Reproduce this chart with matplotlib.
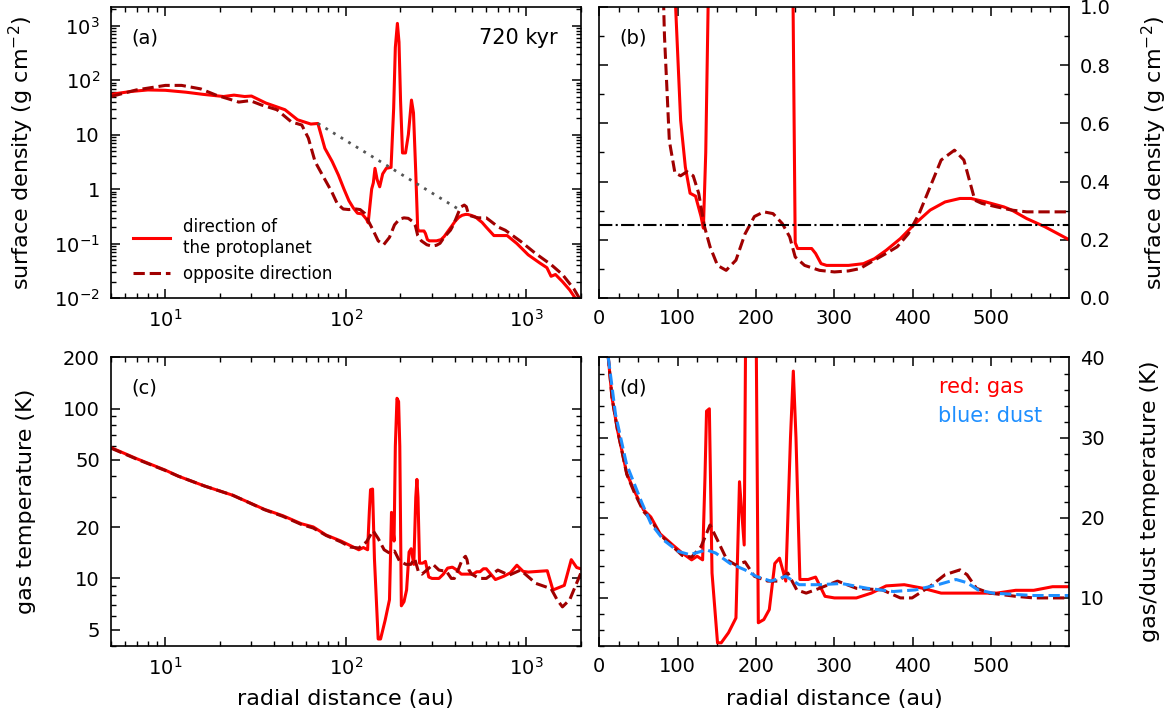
import numpy as np
import matplotlib
matplotlib.use("Agg")
import matplotlib.pyplot as plt
from matplotlib.ticker import (FixedLocator, FixedFormatter, LogLocator, NullFormatter,
                               MultipleLocator, FormatStrFormatter)

# ---- surface density, direction of the protoplanet (au, g cm^-2)
r_sig_near = [5, 6.5, 8, 10, 13, 16, 21, 24, 27.5, 30, 36, 46, 54, 64, 70, 76.5, 84, 91,
              97.6, 104, 110, 116, 123, 130, 133, 136, 139, 142, 145, 149, 154, 160, 167.5,
              178, 184, 188, 193, 197, 201, 206, 214, 222, 231, 237, 244, 250, 253, 262,
              271, 276, 283, 290, 318, 337, 351, 366, 384, 403, 422, 441, 460, 474, 493,
              516, 526, 545, 568, 600, 661, 783, 886, 1024, 1186, 1300, 1371, 1450, 1585,
              1740, 1880, 2000]
sig_near = [55, 62, 66, 65, 60, 55, 50, 53, 50, 51, 38, 28.6, 18.7, 15.6, 16, 5.6, 3.2, 1.8,
            1.0, 0.61, 0.45, 0.36, 0.35, 0.28, 0.24, 0.5, 1.0, 1.3, 2.4, 1.5, 1.1, 1.9, 2.4,
            2.5, 30, 400, 1100, 500, 41, 4.6, 4.6, 10, 43, 25, 2.0, 0.19, 0.17, 0.17,
            0.17, 0.153, 0.118, 0.112, 0.112, 0.118, 0.135, 0.164, 0.204, 0.256, 0.302,
            0.33, 0.342, 0.342, 0.33, 0.313, 0.302, 0.273, 0.245, 0.199, 0.14, 0.14, 0.10,
            0.062, 0.044, 0.036, 0.025, 0.027, 0.020, 0.014, 0.0096, 0.008]

# ---- surface density, opposite direction
r_sig_far = [5, 6.9, 10, 12.3, 15.7, 19.1, 22, 25.5, 29.5, 34, 41.5, 50, 57, 62, 67.5, 74,
             83.4, 89.6, 96.7, 104, 112, 120, 127, 134.4, 141.5, 151, 162, 174.5, 186, 198,
             210, 221.7, 233.5, 243, 250, 262, 281, 300, 318, 332.5, 347, 366, 380, 394,
             408, 422, 436, 453, 465, 479, 488, 507, 526, 545, 600, 632, 700, 765, 929,
             1129, 1371, 1585, 1836, 2000]
sig_far = [50, 66, 80, 80, 69, 53, 46, 39.5, 42, 35, 28.6, 17, 15, 8.6, 3.2, 1.83,
           0.9, 0.54, 0.43, 0.42, 0.434, 0.42, 0.36, 0.245, 0.176, 0.112, 0.095, 0.13,
           0.22, 0.28, 0.296, 0.29, 0.256, 0.21, 0.141, 0.112, 0.095, 0.0895, 0.093,
           0.101, 0.124, 0.153, 0.176, 0.22, 0.29, 0.382, 0.474, 0.508, 0.474, 0.336,
           0.325, 0.313, 0.302, 0.296, 0.296, 0.26, 0.2, 0.175, 0.11, 0.065, 0.041,
           0.027, 0.0146, 0.009]

# dotted reference power law in (a) and threshold in (b)
r_ref = [70, 435]
sig_ref = [16, 0.40]
sig_threshold = 0.25

# ---- gas temperature, direction of the protoplanet (K)
r_T_near = [5, 7, 10, 11.8, 16.5, 23.6, 35.4, 44.8, 56.6, 66, 77.8, 94, 106, 118, 125, 132,
            135, 137, 140.6, 144, 151, 155.7, 165, 174.5, 179, 185, 188, 192, 196, 199, 203,
            210, 217, 224, 230, 238, 244, 247.6, 251, 256, 266.5, 276, 288, 300, 328, 347,
            366, 389, 413, 436, 483, 507, 531, 554, 578, 600, 674, 750, 817, 886, 960, 1024,
            1306, 1404, 1623, 1774, 1900, 2000]
T_near = [58.9, 50.5, 43.4, 40, 35, 30.9, 25.5, 23.4, 21, 20.1, 18, 16.6, 15.6, 14.75, 15.2,
          14.75, 25, 33.3, 33.6, 13.1, 4.4, 4.4, 5.66, 7.5, 24.5, 16.6, 60, 115, 110, 60, 6.9,
          7.3, 8.55, 14.3, 14.96, 12.1, 30, 38.3, 30, 12.3, 12.3, 12.6, 10.2, 10, 10, 10.6,
          11.5, 11.65, 11.2, 10.6, 10.6, 10.6, 10.95, 10.95, 11.4, 11.4, 9.85, 10.3, 10.8,
          11.96, 11.0, 10.9, 11.1, 8.55, 9.1, 12.9, 11.6, 11.4]

# ---- gas temperature, opposite direction
r_T_far = [5, 7, 10, 11.8, 16.5, 23.6, 35.4, 44.8, 56.6, 66, 77.8, 94, 106, 118, 130, 141.5,
           151, 163, 174.5, 186, 198, 215, 229, 240.6, 252, 264, 281, 304, 328, 361, 384,
           399, 422, 441, 460, 469, 481, 498, 531, 554, 600, 695, 803, 929, 1129, 1371,
           1480, 1585, 1740, 2000]
T_far = [58.5, 50.2, 43.2, 40, 35, 30.9, 25.4, 23.2, 20.8, 19.8, 17.9, 16.4, 15.3, 15.1,
         16.4, 19.1, 17.2, 14.75, 14.1, 14.5, 12.7, 12.1, 12.1, 13.1, 11, 10.6, 11.2, 12.1,
         11.2, 11, 10, 10, 11.45, 12.9, 13.5, 12.9, 11.2, 10.6, 10.2, 10, 10, 11.2, 10.45,
         11.2, 9.35, 8.7, 7.5, 6.8, 7.5, 10.7]

# ---- dust temperature (panel d only)
r_T_dust = [10, 11.8, 21, 35, 54, 66, 82.5, 101, 115.6, 137, 148.6, 167, 186, 200, 219, 238,
            255, 281, 309, 342, 375, 403, 432, 455, 469, 483, 502, 554, 600]
T_dust = [42, 40, 32.9, 26.7, 22, 19.3, 17.2, 15.8, 15.4, 16, 15.6, 14.3, 13.5, 12.7, 12.1,
          12.7, 11.65, 11.65, 11.8, 11.2, 10.8, 11, 11.65, 12.3, 11.9, 11, 10.6, 10.3, 10.3]

RED = "#ff0000"
DARK = "#a00000"
BLUE = "#1e8fff"
LW = 2.2

plt.rcParams["font.family"] = "DejaVu Sans"
plt.rcParams["mathtext.fontset"] = "dejavusans"

fig = plt.figure(figsize=(11.7, 7.21), dpi=100)
ax_a = fig.add_axes([0.0949, 0.5867, 0.4014, 0.4036])
ax_b = fig.add_axes([0.5120, 0.5867, 0.4017, 0.4036])
ax_c = fig.add_axes([0.0949, 0.1040, 0.4014, 0.4002])
ax_d = fig.add_axes([0.5120, 0.1040, 0.4017, 0.4002])

for ax in (ax_a, ax_b, ax_c, ax_d):
    ax.tick_params(which="both", direction="in", top=True, right=True, labelsize=14, pad=8)
    ax.tick_params(which="major", length=6.5, width=1.1)
    ax.tick_params(which="minor", length=3.5, width=1.0)
    for s in ax.spines.values():
        s.set_linewidth(1.2)

# (a) surface density, log-log
ax_a.plot(r_sig_near, sig_near, color=RED, lw=LW, label="direction of\nthe protoplanet")
ax_a.plot(r_sig_far, sig_far, color=DARK, lw=LW, ls="--", label="opposite direction")
ax_a.plot(r_ref, sig_ref, color="#555555", lw=2, ls=(0, (1, 2.2)))
ax_a.set_xscale("log")
ax_a.set_yscale("log")
ax_a.set_xlim(5, 2000)
ax_a.set_ylim(1e-2, 2.2e3)
ax_a.yaxis.set_major_locator(FixedLocator([1e-2, 1e-1, 1, 10, 100, 1000]))
ax_a.yaxis.set_major_formatter(FixedFormatter(["$10^{-2}$", "$10^{-1}$", "1", "10",
                                               "$10^2$", "$10^3$"]))
ax_a.yaxis.set_minor_locator(LogLocator(base=10, subs=np.arange(2, 10), numticks=20))
ax_a.yaxis.set_minor_formatter(NullFormatter())
ax_a.set_ylabel("surface density (g cm$^{-2}$)", fontsize=16)
ax_a.text(0.043, 0.893, "(a)", transform=ax_a.transAxes, fontsize=14, va="center")
ax_a.text(0.95, 0.893, "720 kyr", transform=ax_a.transAxes, fontsize=15, va="center",
          ha="right")
ax_a.legend(loc="lower left", bbox_to_anchor=(0.015, 0.0), frameon=False, fontsize=12,
            handlelength=2.2, handletextpad=0.8)

# (b) surface density, linear
ax_b.plot(r_sig_near, sig_near, color=RED, lw=LW)
ax_b.plot(r_sig_far, sig_far, color=DARK, lw=LW, ls="--")
ax_b.axhline(sig_threshold, color="black", lw=1.5, ls="-.")
ax_b.set_xlim(0, 599)
ax_b.set_ylim(0, 1.0)
ax_b.xaxis.set_major_locator(MultipleLocator(100))
ax_b.xaxis.set_minor_locator(MultipleLocator(25))
ax_b.yaxis.set_major_locator(MultipleLocator(0.2))
ax_b.yaxis.set_minor_locator(MultipleLocator(0.1))
ax_b.yaxis.set_major_formatter(FormatStrFormatter("%.1f"))
ax_b.tick_params(axis="y", which="both", labelleft=False, labelright=True)
ax_b.yaxis.set_label_position("right")
ax_b.set_ylabel("surface density (g cm$^{-2}$)", fontsize=16)
ax_b.text(0.043, 0.893, "(b)", transform=ax_b.transAxes, fontsize=14, va="center")

# (c) gas temperature, log-log
ax_c.plot(r_T_near, T_near, color=RED, lw=LW)
ax_c.plot(r_T_far, T_far, color=DARK, lw=LW, ls="--")
ax_c.set_xscale("log")
ax_c.set_yscale("log")
ax_c.set_xlim(5, 2000)
ax_c.set_ylim(4, 200)
ax_c.yaxis.set_major_locator(FixedLocator([5, 10, 20, 50, 100, 200]))
ax_c.yaxis.set_major_formatter(FixedFormatter(["5", "10", "20", "50", "100", "200"]))
ax_c.yaxis.set_minor_locator(LogLocator(base=10, subs=np.arange(2, 10), numticks=20))
ax_c.yaxis.set_minor_formatter(NullFormatter())
ax_c.set_ylabel("gas temperature (K)", fontsize=16)
ax_c.set_xlabel("radial distance (au)", fontsize=16)
ax_c.text(0.043, 0.893, "(c)", transform=ax_c.transAxes, fontsize=14, va="center")

for ax in (ax_a, ax_c):
    ax.xaxis.set_major_locator(FixedLocator([10, 100, 1000]))
    ax.xaxis.set_major_formatter(FixedFormatter(["$10^1$", "$10^2$", "$10^3$"]))
    ax.xaxis.set_minor_locator(LogLocator(base=10, subs=np.arange(2, 10), numticks=20))
    ax.xaxis.set_minor_formatter(NullFormatter())

# (d) gas / dust temperature, linear
ax_d.plot(r_T_near, T_near, color=RED, lw=LW)
ax_d.plot(r_T_far, T_far, color=DARK, lw=LW, ls="--")
ax_d.plot(r_T_dust, T_dust, color=BLUE, lw=LW, ls="--")
ax_d.set_xlim(0, 599)
ax_d.set_ylim(4, 40)
ax_d.xaxis.set_major_locator(MultipleLocator(100))
ax_d.xaxis.set_minor_locator(MultipleLocator(25))
ax_d.yaxis.set_major_locator(MultipleLocator(10))
ax_d.yaxis.set_minor_locator(MultipleLocator(2))
ax_d.tick_params(axis="y", which="both", labelleft=False, labelright=True)
ax_d.yaxis.set_label_position("right")
ax_d.set_ylabel("gas/dust temperature (K)", fontsize=16)
ax_d.set_xlabel("radial distance (au)", fontsize=16)
ax_d.text(0.043, 0.893, "(d)", transform=ax_d.transAxes, fontsize=14, va="center")
ax_d.text(0.724, 0.899, "red: gas", transform=ax_d.transAxes, fontsize=15, va="center",
          color=RED)
ax_d.text(0.722, 0.796, "blue: dust", transform=ax_d.transAxes, fontsize=15, va="center",
          color=BLUE)

# label placement (axes fractions)
for ax in (ax_a, ax_c):
    ax.yaxis.set_label_coords(-0.16, 0.5)
for ax in (ax_b, ax_d):
    ax.yaxis.set_label_coords(1.15, 0.5)
for ax in (ax_c, ax_d):
    ax.xaxis.set_label_coords(0.5, -0.15)

fig.savefig("out.png", dpi=100)
